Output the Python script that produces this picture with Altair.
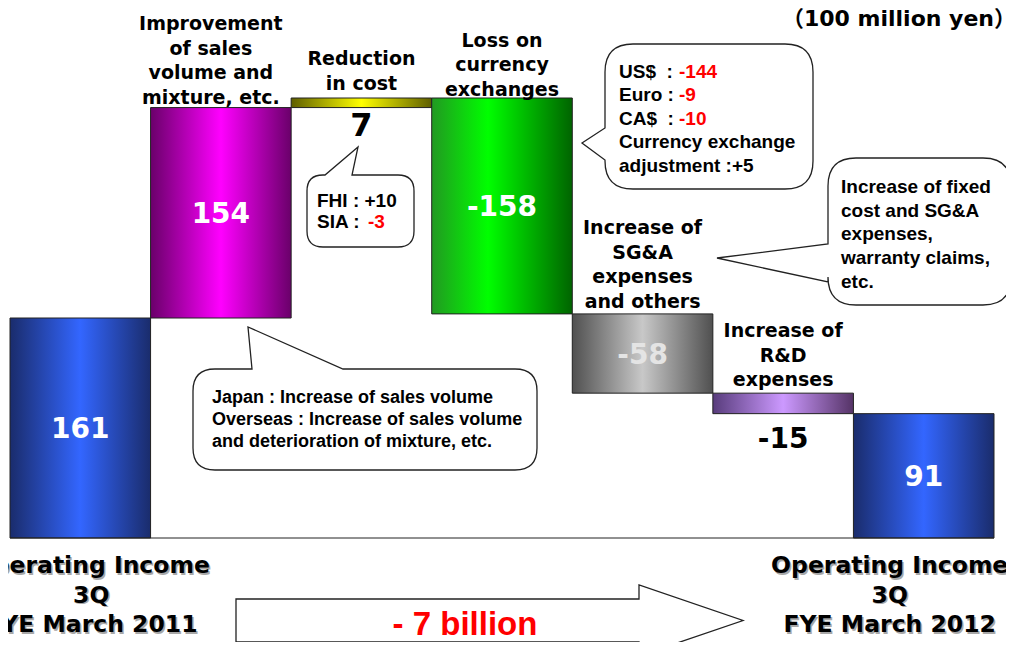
import altair as alt
import pandas as pd

# ---------------- data ----------------
categories = [
    "Operating Income\n3Q\nFYE March 2011",
    "Improvement\nof sales\nvolume and\nmixture, etc.",
    "Reduction\nin cost",
    "Loss on\ncurrency\nexchanges",
    "Increase of\nSG&A\nexpenses\nand others",
    "Increase of\nR&D\nexpenses",
    "Operating Income\n3Q\nFYE March 2012",
]
values = [161, 154, 7, -158, -58, -15, 91]
kinds = ["total", "delta", "delta", "delta", "delta", "delta", "total"]
value_labels = ["161", "154", "7", "-158", "-58", "-15", "91"]

unit_note = "（100 million yen）"
change_note = "- 7 billion"
note_sales = ["Japan : Increase of sales volume",
              "Overseas : Increase of sales volume",
              "and deterioration of mixture, etc."]
note_cost_black = ["FHI : +10", "SIA :"]
note_cost_red = ["-3"]
note_fx_black = ["US$\u00a0 :", "Euro :", "CA$\u00a0 :", "Currency exchange", "adjustment :+5"]
note_fx_red = ["-144", "-9", "-10"]
note_sga = ["Increase of fixed", "cost and SG&A", "expenses,", "warranty claims,", "etc."]

# ---------------- derived table ----------------
starts, ends = [], []
run = 0
for v, k in zip(values, kinds):
    if k == "total":
        s, e = 0, v
    else:
        s, e = run, run + v
    run = e
    starts.append(s)
    ends.append(e)

df = pd.DataFrame({
    "idx": list(range(len(categories))),
    "cat": categories,
    "value": values,
    "kind": kinds,
    "label": value_labels,
    "start": starts,
    "end": ends,
})
df["x0"] = df["idx"]
df["x1"] = df["idx"] + 1
df["xm"] = df["idx"] + 0.5
df["lo"] = df[["start", "end"]].min(axis=1)
df["hi"] = df[["start", "end"]].max(axis=1)
df["mid"] = (df["start"] + df["end"]) / 2
df["base"] = 0
df["nlines"] = df["cat"].str.count("\n") + 1

# ---------------- layout ----------------
W, H = 998, 634
OX, OY = 8, 8
KX = 984 / 7.0          # px per category slot
KY = 440 / 322.0        # px per unit
XS = alt.Scale(domain=[-2 / KX, 7 + 12 / KX], nice=False, zero=False)
YS = alt.Scale(domain=[-(H + OY - 538) / KY, (538 - OY) / KY], nice=False, zero=False)

CAT_FS, CAT_LH = 19, 24.5
label_dx_px = {1: -10, 0: 11, 6: -34}
label_gap_px = {1: 11, 2: 15, 3: 9, 4: 13, 5: 14}   # last line centre above bar top
df["lx"] = df["xm"] + df["idx"].map(lambda i: label_dx_px.get(i, 0)) / KX
df["ly"] = df["hi"] + (
    df["idx"].map(lambda i: label_gap_px.get(i, 12))
    + round(0.79 * CAT_FS) - 0.365 * CAT_FS
    + (df["nlines"] - 1) * CAT_LH
) / KY

FONT_V = "DejaVu Sans"
FONT_A = "Liberation Sans, Arial"


def grad(edge, mid, edge2=None, pos=0.5):
    return alt.Gradient(
        gradient="linear", x1=0, x2=1, y1=0, y2=0,
        stops=[alt.GradientStop(color=edge, offset=0),
               alt.GradientStop(color=mid, offset=pos),
               alt.GradientStop(color=edge2 or edge, offset=1)])


bar_fills = [
    grad("#1a2c6c", "#3366ff"),
    grad("#6a006a", "#ff00ff"),
    grad("#5e5e00", "#ffff00"),
    grad("#229922", "#00ff00", "#006400", 0.4),
    grad("#505050", "#c8c8c8"),
    grad("#583c7c", "#cc99ff", "#553366"),
    grad("#1a2c6c", "#3366ff"),
]

base = alt.Chart(df)
layers = []

for i, fill in enumerate(bar_fills):
    layers.append(
        base.transform_filter(alt.datum.idx == i)
        .mark_rect(fill=fill, stroke="#222222", strokeWidth=1)
        .encode(x=alt.X("x0:Q", scale=XS, axis=None), x2="x1:Q",
                y=alt.Y("start:Q", scale=YS, axis=None), y2="end:Q")
    )

# baseline
layers.append(
    base.transform_filter(alt.datum.idx == 0)
    .transform_calculate(datum_end="7")
    .mark_rule(color="#222222", strokeWidth=1)
    .encode(x=alt.X("x0:Q", scale=XS), x2=alt.X2("datum_end:Q"),
            y=alt.Y("base:Q", scale=YS))
)

one = alt.Data(values=[{"a": 1}])


def shape(path_pts):
    return alt.Chart(one).mark_point(
        shape=path_pts, size=4, filled=True, fill="white", stroke="#222222",
        strokeWidth=1.3, opacity=1, fillOpacity=1, strokeOpacity=1
    ).encode(x=alt.value(0), y=alt.value(0))


def f(v):
    return f"{v:.1f}"


def callout(x0, y0, x1, y1, r, side, pa, pb, tip):
    x0, x1 = x0 - OX, x1 - OX
    y0, y1 = y0 - OY, y1 - OY
    tx, ty = tip[0] - OX, tip[1] - OY
    p = [f"M{f(x0 + r)},{f(y0)}"]
    if side == "top":
        p += [f"L{f(pa - OX)},{f(y0)}", f"L{f(tx)},{f(ty)}", f"L{f(pb - OX)},{f(y0)}"]
    p += [f"L{f(x1 - r)},{f(y0)}", f"Q{f(x1)},{f(y0)} {f(x1)},{f(y0 + r)}",
          f"L{f(x1)},{f(y1 - r)}", f"Q{f(x1)},{f(y1)} {f(x1 - r)},{f(y1)}",
          f"L{f(x0 + r)},{f(y1)}", f"Q{f(x0)},{f(y1)} {f(x0)},{f(y1 - r)}"]
    if side == "left":
        p += [f"L{f(x0)},{f(pb - OY)}", f"L{f(tx)},{f(ty)}", f"L{f(x0)},{f(pa - OY)}"]
    p += [f"L{f(x0)},{f(y0 + r)}", f"Q{f(x0)},{f(y0)} {f(x0 + r)},{f(y0)}", "Z"]
    return " ".join(p)


def poly(pts):
    return "M" + " L".join(f"{f(x - OX)},{f(y - OY)}" for x, y in pts) + " Z"


layers.append(shape(callout(193, 369, 537, 470, 22, "top", 252, 343, (248, 327))))
layers.append(shape(callout(307, 175, 414, 247, 16, "top", 325, 352, (358, 147))))
layers.append(shape(callout(605, 44, 813, 189, 28, "left", 128, 160, (582, 143))))
layers.append(shape(callout(828, 158, 1011, 305, 28, "left", 244, 282, (717, 258))))
layers.append(shape(poly([(236, 599), (639, 599), (639, 585), (743, 620.5),
                          (639, 656), (639, 642), (236, 642)])))


def T(text, x, y, size, color="black", align="left", baseline="top", font=FONT_A, lh=None):
    kw = dict(font=font, fontSize=size, fontWeight="bold", color=color,
              align=align, baseline=baseline)
    if lh is not None:
        kw["lineHeight"] = lh
    return alt.Chart(one).mark_text(**kw).encode(
        x=alt.value(x - OX), y=alt.value(y - OY), text=alt.value(text))


# value labels inside bars
layers.append(
    base.transform_filter(alt.FieldOneOfPredicate(field="idx", oneOf=[0, 1, 3, 6]))
    .mark_text(font=FONT_V, fontWeight="bold", fontSize=28, color="white",
               baseline="middle", dy=2)
    .encode(x=alt.X("xm:Q", scale=XS), y=alt.Y("mid:Q", scale=YS), text="label:N")
)
layers.append(
    base.transform_filter(alt.datum.idx == 4)
    .mark_text(font=FONT_V, fontWeight="bold", fontSize=28, color="#e4e4e4",
               baseline="middle", dy=2)
    .encode(x=alt.X("xm:Q", scale=XS), y=alt.Y("mid:Q", scale=YS), text="label:N")
)
# value labels below thin bars
layers.append(
    base.transform_filter(alt.datum.idx == 2)
    .mark_text(font=FONT_V, fontWeight="bold", fontSize=32, color="black",
               baseline="middle", dy=18)
    .encode(x=alt.X("xm:Q", scale=XS), y=alt.Y("lo:Q", scale=YS), text="label:N")
)
layers.append(
    base.transform_filter(alt.datum.idx == 5)
    .mark_text(font=FONT_V, fontWeight="bold", fontSize=28, color="black",
               baseline="middle", dy=26)
    .encode(x=alt.X("xm:Q", scale=XS), y=alt.Y("lo:Q", scale=YS), text="label:N")
)

# category labels above change bars
layers.append(
    base.transform_filter(alt.datum.kind == "delta")
    .mark_text(font=FONT_V, fontWeight="bold", fontSize=CAT_FS, color="black",
               baseline="top", lineBreak="\n", lineHeight=CAT_LH)
    .encode(x=alt.X("lx:Q", scale=XS), y=alt.Y("ly:Q", scale=YS), text="cat:N")
)
# total labels below baseline (with soft shadow)
for col, off in (("#a8a8a8", 1.5), ("black", 0)):
    layers.append(
        base.transform_filter(alt.datum.kind == "total")
        .mark_text(font=FONT_V, fontWeight="bold", fontSize=23.5, color=col,
                   baseline="top", lineBreak="\n", lineHeight=29.5,
                   dy=16 + off, dx=off)
        .encode(x=alt.X("lx:Q", scale=XS), y=alt.Y("base:Q", scale=YS), text="cat:N")
    )

# annotation texts
layers.append(T(unit_note, 1016, 9, 22, align="right", font=FONT_V + ", Noto Sans CJK JP"))
layers.append(T(note_sales, 212, 389, 18, lh=22))
layers.append(T(note_cost_black, 317, 192, 19, lh=21))
layers.append(T(note_cost_red, 368, 213, 19, color="#ff0000"))
layers.append(T(note_fx_black, 619, 63, 19, lh=23.4))
layers.append(T(note_fx_red, 679, 63, 19, color="#ff0000", lh=23.4))
layers.append(T(note_sga, 841, 178, 19, lh=23.7))
layers.append(T(change_note, 465, 635, 33, color="#ff0000", align="center", baseline="alphabetic"))

chart = alt.layer(*layers).properties(
    width=W, height=H, autosize="none", padding=0, background="white"
).configure_view(stroke=None)

chart.save("out.html", embed_options={"renderer": "svg", "actions": False})
